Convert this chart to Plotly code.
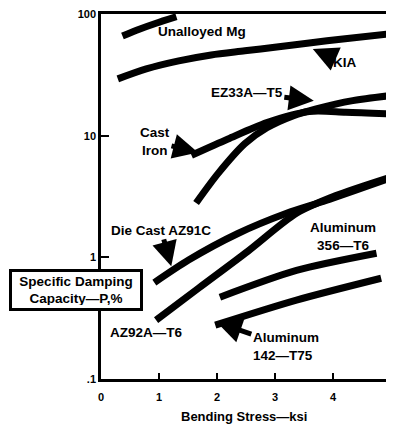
import plotly.graph_objects as go

# ---- data ----
unalloyed_x = [0.37, 0.66, 0.95, 1.30]
unalloyed_y = [66, 75, 84, 95]
kia_x = [0.29, 0.78, 1.34, 1.90, 2.48, 3.03, 3.59, 4.17, 4.97]
kia_y = [29.3, 35.4, 41.2, 46.1, 49.8, 53.6, 57.8, 62.4, 68.6]
cast_iron_x = [1.56, 2.19, 2.86, 3.59, 4.22, 4.97]
cast_iron_y = [6.9, 9.4, 12.8, 15.8, 15.6, 15.1]
ez33a_x = [1.64, 2.02, 2.48, 2.86, 3.32, 3.71, 4.34, 4.97]
ez33a_y = [2.8, 4.9, 8.6, 11.6, 14.6, 16.6, 19.4, 21.3]
az91c_x = [0.92, 1.51, 2.36, 3.20, 3.88, 4.97]
az91c_y = [0.62, 0.95, 1.57, 2.30, 2.93, 4.45]
az92a_x = [0.95, 1.68, 2.53, 3.37, 4.05, 4.97]
az92a_y = [0.305, 0.557, 1.12, 2.30, 3.22, 4.53]
al356_x = [2.05, 3.37, 4.75]
al356_y = [0.47, 0.78, 1.08]
al142_x = [1.97, 3.37, 4.83]
al142_y = [0.277, 0.445, 0.673]

x_tickvals = [0, 1, 2, 3, 4, 5]
x_ticktext = ["0", "1", "2", "3", "4", "5"]
y_tickvals = [0.1, 1, 10, 100]
y_ticktext = [".1", "1", "10", "100"]

series = [
    (unalloyed_x, unalloyed_y), (kia_x, kia_y), (cast_iron_x, cast_iron_y),
    (ez33a_x, ez33a_y), (az91c_x, az91c_y), (az92a_x, az92a_y),
    (al356_x, al356_y), (al142_x, al142_y),
]

# ---- layout geometry (window pixels) ----
# the page body has an 8px margin, so the figure starts at (8, 8)
OFF = 8
W_FIG, H_FIG = 394 - OFF, 429 - OFF
PL, PT, PR, PB = 101, 13, 394, 379      # plot box in window pixels
L, T = PL - OFF, PT - OFF
R = W_FIG - (PR - OFF)
B = H_FIG - (PB - OFF)
PW = PR - PL
PH = PB - PT

def pxx(x):
    return (x - PL) / PW

def pyy(y):
    return (PB - y) / PH

FONT = "Liberation Sans, Arial, sans-serif"
FS = 13.5

fig = go.Figure()
for xs, ys in series:
    fig.add_trace(go.Scatter(
        x=xs, y=ys, mode="lines",
        line=dict(color="black", width=7, shape="spline", smoothing=0.8),
        showlegend=False, hoverinfo="skip",
    ))

def label(text, x, y, size=FS, align="center", **kw):
    d = dict(text="<b>%s</b>" % text, xref="paper", yref="paper",
             x=pxx(x), y=pyy(y), xanchor="center", yanchor="middle",
             showarrow=False, align=align,
             font=dict(family=FONT, size=size, color="black"))
    d.update(kw)
    return d

def arrow_label(text, tip_x, tip_y, tx, ty, size=FS, align="center"):
    return dict(text="<b>%s</b>" % text, xref="paper", yref="paper",
                x=pxx(tip_x), y=pyy(tip_y), ax=tx - tip_x, ay=ty - tip_y,
                xanchor="center", yanchor="middle",
                showarrow=True, arrowhead=2, arrowsize=1.0, arrowwidth=5,
                arrowcolor="black", align=align, standoff=0,
                font=dict(family=FONT, size=size, color="black"))

annotations = [
    label("Unalloyed Mg", 203, 31),
    arrow_label("KIA", 315, 48, 347, 62),
    arrow_label("EZ33A\u2014T5", 316, 100, 249, 92),
    arrow_label("Cast<br>Iron", 199, 152, 156, 141),
    arrow_label("Die Cast AZ91C", 172, 266, 162, 230),
    label("Aluminum<br>356\u2014T6", 345, 236),
    label("AZ92A\u2014T6", 147, 332),
    arrow_label("Aluminum<br>142\u2014T75", 218, 322, 287, 346, align="left"),
    label("Bending Stress\u2014ksi", 245, 417, size=13),
    dict(text="<b>Specific Damping<br>Capacity\u2014P,%</b>", xref="paper", yref="paper",
         x=pxx(75.5), y=pyy(290), xanchor="center", yanchor="middle",
         showarrow=False, align="center",
         bgcolor="white", bordercolor="black", borderwidth=3, borderpad=3,
         width=122, height=30,
         font=dict(family=FONT, size=FS, color="black")),
]

fig.update_layout(
    width=W_FIG, height=H_FIG,
    margin=dict(l=L, r=R, t=T, b=B, pad=0),
    paper_bgcolor="white", plot_bgcolor="white",
    annotations=annotations,
    xaxis=dict(
        range=[0, 5], showgrid=False, zeroline=False,
        showline=True, linecolor="black", linewidth=2.5, mirror=True,
        ticks="inside", ticklen=6, tickwidth=2, tickcolor="black",
        tickvals=x_tickvals, ticktext=x_ticktext,
        tickfont=dict(family=FONT, size=11, color="black", weight="bold"),
        ticklabelstandoff=6, ticklabeloverflow="allow",
    ),
    yaxis=dict(
        type="log", range=[-1, 2], showgrid=False, zeroline=False,
        showline=True, linecolor="black", linewidth=2.5, mirror=False,
        ticks="inside", ticklen=8, tickwidth=2, tickcolor="black",
        tickvals=y_tickvals, ticktext=y_ticktext,
        tickfont=dict(family=FONT, size=11, color="black", weight="bold"),
        ticklabeloverflow="allow",
    ),
)

fig.write_html("out.html")
